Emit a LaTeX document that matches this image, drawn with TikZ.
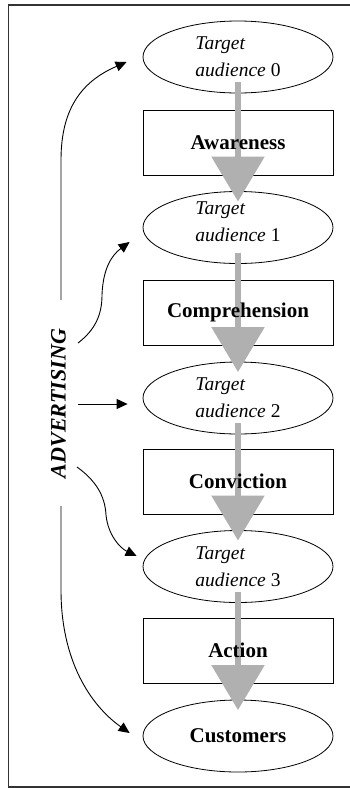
\documentclass[tikz,border=0pt]{standalone}
\usepackage{fontspec}
\setmainfont{Liberation Serif}
\usetikzlibrary{arrows.meta,shapes.geometric}
\definecolor{flowgray}{RGB}{176,176,176}
\definecolor{framegray}{RGB}{50,50,50}
\begin{document}
\begin{tikzpicture}[x=1pt,y=-1pt,
  stage/.style={draw, line width=0.8pt, fill=white, ellipse, minimum width=190pt, minimum height=72pt, inner sep=0pt},
  stepbox/.style={draw, line width=0.8pt, fill=white, rectangle, minimum width=190pt, minimum height=65pt, inner sep=0pt},
  stagetext/.style={align=left, font=\fontsize{19.5}{27}\selectfont, inner sep=0pt},
  boxtext/.style={font=\fontsize{21}{24}\selectfont\bfseries, inner sep=0pt},
  flow/.style={draw=flowgray, line width=6pt, -{Triangle[length=45pt,width=52pt]}, shorten <=25pt, shorten >=26pt},
  push/.style={line width=0.9pt, -{Triangle[length=11pt,width=10pt]}}
]
\useasboundingbox (0,0) rectangle (349,788);

% open frame (right side runs off the page)
\draw[framegray, line width=1.2pt] (352,5) -- (8.5,5) -- (8.5,787) -- (352,787);

% audience stages and the steps between them
\node[stage]   (e0) at (238,57)    {};
\node[stepbox] (b0) at (238,142.5) {};
\node[stage]   (e1) at (238,227.5) {};
\node[stepbox] (b1) at (238,312.5) {};
\node[stage]   (e2) at (238,398)   {};
\node[stepbox] (b2) at (238,481.5) {};
\node[stage]   (e3) at (238,566.5) {};
\node[stepbox] (b3) at (238,650.5) {};
\node[stage]   (e4) at (238,736)   {};

% grey flow arrows from stage to stage
\draw[flow] (e0.center) -- (e1.center);
\draw[flow] (e1.center) -- (e2.center);
\draw[flow] (e2.center) -- (e3.center);
\draw[flow] (e3.center) -- (e4.center);

% labels
\node[stagetext] (t0) at (e0.center) {\textit{Target}\\\textit{audience} 0};
\node[stagetext] (t1) at ([yshift=6pt]e1.center) {\textit{Target}\\\textit{audience} 1};
\node[stagetext] (t2) at (e2.center) {\textit{Target}\\\textit{audience} 2};
\node[stagetext] (t3) at (e3.center) {\textit{Target}\\\textit{audience} 3};
\node[boxtext] (l0) at (b0.center) {Awareness};
\node[boxtext] (l1) at (b1.center) {Comprehension};
\node[boxtext] (l2) at (b2.center) {Conviction};
\node[boxtext] (l3) at (b3.center) {Action};
\node[boxtext] (l4) at (e4.center) {Customers};

% advertising and its arrows
\node[font=\fontsize{22}{26}\selectfont\bfseries\itshape, rotate=90, inner sep=0pt] (adv) at (58.5,403.5) {ADVERTISING};
\coordinate (s0) at (61,300);
\coordinate (s1) at (78,343);
\coordinate (s2) at (78,404);
\coordinate (s3) at (77,467);
\coordinate (s4) at (61,506);

\draw[push] (s0) -- (61,160) .. controls (61,105) and (85,80) .. ([shift={(-16,5)}]e0.west);
\draw[push] (s1) .. controls (95,330) and (102,315) .. (102,295)
                 .. controls (103,268) and (112,255) .. ([shift={(-13,14.5)}]e1.west);
\draw[push] (s2) -- ([shift={(-15,6)}]e2.west);
\draw[push] (s3) .. controls (95,480) and (105,495) .. (106,515)
                 .. controls (108,535) and (120,548) .. ([shift={(-6,-10.5)}]e3.west);
\draw[push] (s4) -- (61,590) .. controls (61,660) and (90,705) .. ([shift={(-13,-3)}]e4.west);
\end{tikzpicture}
\end{document}
